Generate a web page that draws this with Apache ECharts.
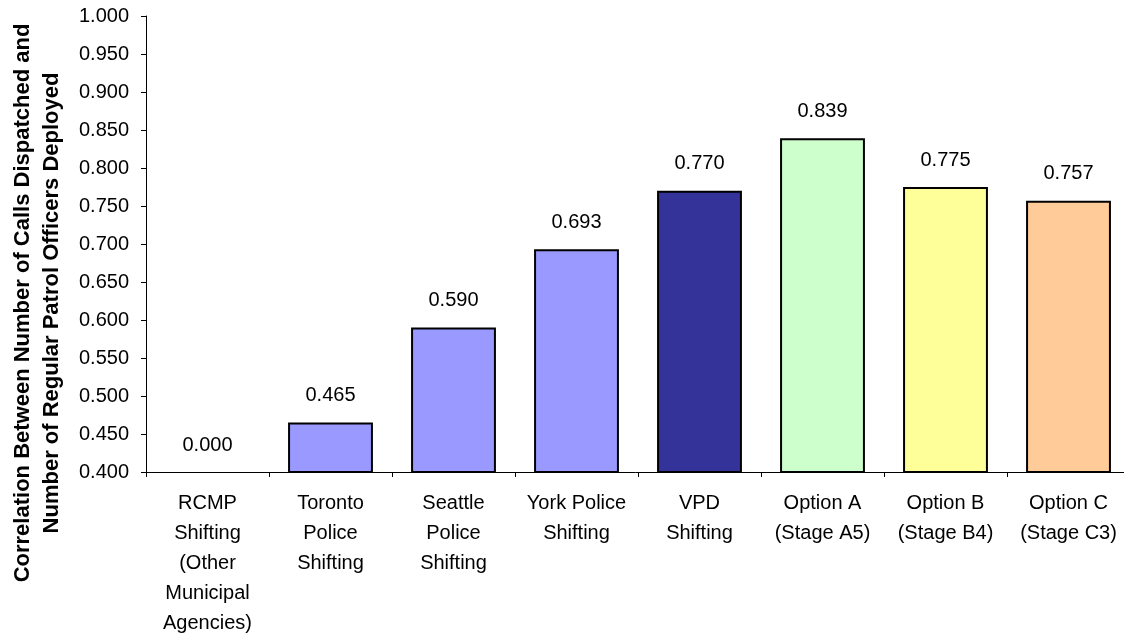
<!DOCTYPE html>
<html>
<head>
<meta charset="utf-8">
<script src="https://cdn.jsdelivr.net/npm/echarts@6/dist/echarts.min.js"></script>
<style>
html,body{margin:0;padding:0;background:#fff;}
#chart{width:1124px;height:638px;}
</style>
</head>
<body>
<div id="chart"></div>
<script>
const categories = [
  "RCMP\nShifting\n(Other\nMunicipal\nAgencies)",
  "Toronto\nPolice\nShifting",
  "Seattle\nPolice\nShifting",
  "York Police\nShifting",
  "VPD\nShifting",
  "Option A\n(Stage A5)",
  "Option B\n(Stage B4)",
  "Option C\n(Stage C3)"
];
const values = [0.000, 0.465, 0.590, 0.693, 0.770, 0.839, 0.775, 0.757];
const barColors = ["#9999FF", "#9999FF", "#9999FF", "#9999FF", "#333399", "#CCFFCC", "#FFFF99", "#FFCC99"];
const yTicks = { min: 0.4, max: 1.0, interval: 0.05 };
const yTitle = "Correlation Between Number of Calls Dispatched and\nNumber of Regular Patrol Officers Deployed";

const FONT = "'Liberation Sans', Arial, sans-serif";
const chart = echarts.init(document.getElementById('chart'), null, { renderer: 'canvas' });

const labelStyle = {
  show: true,
  position: 'top',
  distance: 17,
  color: '#000',
  fontFamily: FONT,
  fontSize: 20,
  formatter: p => values[p.dataIndex].toFixed(3)
};

chart.setOption({
  animation: false,
  backgroundColor: '#fff',
  grid: { left: 146, top: 16, width: 984, bottom: 166, containLabel: false, outerBoundsMode: 'none' },
  xAxis: {
    type: 'category',
    data: categories,
    axisLine: { lineStyle: { color: '#000', width: 1 } },
    axisTick: { show: true, alignWithLabel: false, length: 5, lineStyle: { color: '#000' } },
    axisLabel: {
      interval: 0, margin: 16, color: '#000', fontFamily: FONT, fontSize: 20, lineHeight: 30
    }
  },
  yAxis: {
    type: 'value',
    min: yTicks.min, max: yTicks.max, interval: yTicks.interval,
    name: yTitle,
    nameLocation: 'middle',
    nameGap: 80,
    nameRotate: 90,
    nameTextStyle: {
      color: '#000', fontFamily: FONT, fontSize: 22, fontWeight: 'bold', lineHeight: 29,
      align: 'center', padding: [0, 118, 0, 0]
    },
    axisLine: { show: true, lineStyle: { color: '#000', width: 1 } },
    axisTick: { show: true, length: 5, lineStyle: { color: '#000' } },
    splitLine: { show: false },
    axisLabel: {
      margin: 17, color: '#000', fontFamily: FONT, fontSize: 20,
      formatter: v => v.toFixed(3)
    }
  },
  series: [
    {
      type: 'bar',
      barCategoryGap: '31%',
      data: values.map((v, i) => ({
        value: v,
        itemStyle: { color: barColors[i], borderColor: '#000', borderWidth: 2 }
      })),
      label: labelStyle
    },
    {
      type: 'scatter',
      symbolSize: 0,
      silent: true,
      itemStyle: { opacity: 1 },
      data: values.map((v, i) => v < yTicks.min ? [i, yTicks.min] : [i, '-']),
      label: labelStyle
    }
  ]
});
</script>
</body>
</html>
